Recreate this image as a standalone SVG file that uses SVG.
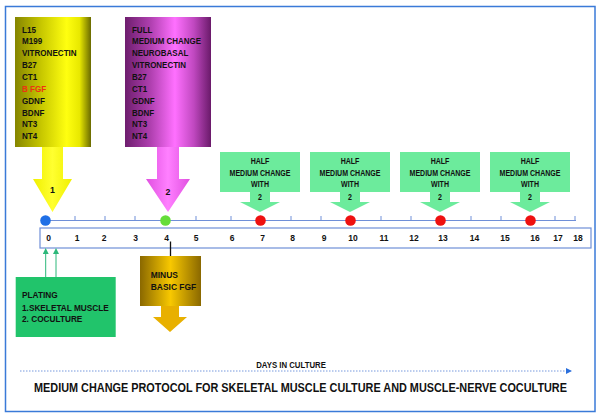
<svg xmlns="http://www.w3.org/2000/svg" width="601" height="417" viewBox="0 0 601 417">
<style>
text{font-family:"Liberation Sans",Arial,sans-serif;font-weight:bold;fill:#111}
.bx{font-size:9.5px}
.co{font-size:8.8px;text-anchor:middle}
.num{font-size:8.5px;text-anchor:middle}
.tick{stroke:#6f8fd8;stroke-width:1}
.callout{fill:#6ceb9c}
</style>
<defs>
<linearGradient id="gy" x1="0" y1="0" x2="1" y2="0">
<stop offset="0" stop-color="#858500"/>
<stop offset="0.35" stop-color="#c8c800"/>
<stop offset="0.68" stop-color="#ffff10"/>
<stop offset="0.85" stop-color="#e8e800"/>
<stop offset="1" stop-color="#6a6a00"/>
</linearGradient>
<linearGradient id="gm" x1="0" y1="0" x2="1" y2="0">
<stop offset="0" stop-color="#6e1e6e"/>
<stop offset="0.3" stop-color="#b040b0"/>
<stop offset="0.58" stop-color="#ff70ff"/>
<stop offset="0.8" stop-color="#c048c0"/>
<stop offset="1" stop-color="#6a1a6a"/>
</linearGradient>
<linearGradient id="go" x1="0" y1="0" x2="1" y2="0">
<stop offset="0" stop-color="#8a6800"/>
<stop offset="0.5" stop-color="#f8c800"/>
<stop offset="1" stop-color="#8a6800"/>
</linearGradient>
<linearGradient id="gya" x1="0" y1="0" x2="1" y2="0">
<stop offset="0" stop-color="#f0f000"/>
<stop offset="0.5" stop-color="#ffff30"/>
<stop offset="1" stop-color="#f0f000"/>
</linearGradient>
<linearGradient id="gma" x1="0" y1="0" x2="1" y2="0">
<stop offset="0" stop-color="#e050e0"/>
<stop offset="0.5" stop-color="#ff80ff"/>
<stop offset="1" stop-color="#e050e0"/>
</linearGradient>
<marker id="ag" markerWidth="6" markerHeight="6" refX="3" refY="3" orient="auto" markerUnits="userSpaceOnUse">
<path d="M0,0 L6,3 L0,6 Z" fill="#2cb87a"/>
</marker>
<marker id="ab" markerWidth="6" markerHeight="6" refX="5" refY="3" orient="auto" markerUnits="userSpaceOnUse">
<path d="M0,0 L6,3 L0,6 Z" fill="#2a6fdc"/>
</marker>
</defs>
<rect x="0" y="0" width="601" height="417" fill="#ffffff"/>
<rect id="frame" x="5.5" y="6.5" width="589.5" height="405" fill="none" stroke="#3a7ad8" stroke-width="1.5"/>

<g id="node-yellow">
<rect x="15" y="17" width="76" height="130" fill="url(#gy)"/>
<polygon points="42,147 63,147 63,179 72,179 52.5,212 33,179 42,179" fill="url(#gya)"/>
<g transform="translate(22,0) scale(0.85,1)">
<text class="bx" x="0" y="32.7">L15</text>
<text class="bx" x="0" y="44.5">M199</text>
<text class="bx" x="0" y="56.3">VITRONECTIN</text>
<text class="bx" x="0" y="68.2">B27</text>
<text class="bx" x="0" y="80">CT1</text>
<text class="bx" x="0" y="91.9" style="fill:#ee3311">B FGF</text>
<text class="bx" x="0" y="103.8">GDNF</text>
<text class="bx" x="0" y="115.6">BDNF</text>
<text class="bx" x="0" y="127.4">NT3</text>
<text class="bx" x="0" y="139.3">NT4</text>
</g>
<text class="co" x="52.5" y="192.5">1</text>
</g>

<g id="node-magenta">
<rect x="125" y="17" width="86" height="130" fill="url(#gm)"/>
<polygon points="157,147 179,147 179,179 190,179 168,212 146,179 157,179" fill="url(#gma)"/>
<g transform="translate(132,0) scale(0.84,1)">
<text class="bx" x="0" y="32.7">FULL</text>
<text class="bx" x="0" y="44.5">MEDIUM CHANGE</text>
<text class="bx" x="0" y="56.3">NEUROBASAL</text>
<text class="bx" x="0" y="68.2">VITRONECTIN</text>
<text class="bx" x="0" y="80">B27</text>
<text class="bx" x="0" y="91.9">CT1</text>
<text class="bx" x="0" y="103.8">GDNF</text>
<text class="bx" x="0" y="115.6">BDNF</text>
<text class="bx" x="0" y="127.4">NT3</text>
<text class="bx" x="0" y="139.3">NT4</text>
</g>
<text class="co" x="168" y="194.5">2</text>
</g>

<g id="node-half-7">
<path class="callout" d="M220,152 H300 V192 H270 V202 H280 L260,212 L240,202 H250 V192 H220 Z"/>
<g transform="translate(260,0) scale(0.8,1)">
<text class="co" x="0" y="164">HALF</text>
<text class="co" x="0" y="176">MEDIUM CHANGE</text>
<text class="co" x="0" y="187.5">WITH</text>
<text class="co" x="0" y="200">2</text>
</g>
</g>
<g id="node-half-10">
<path class="callout" d="M310,152 H390 V192 H360 V202 H370 L350,212 L330,202 H340 V192 H310 Z"/>
<g transform="translate(350,0) scale(0.8,1)">
<text class="co" x="0" y="164">HALF</text>
<text class="co" x="0" y="176">MEDIUM CHANGE</text>
<text class="co" x="0" y="187.5">WITH</text>
<text class="co" x="0" y="200">2</text>
</g>
</g>
<g id="node-half-13">
<path class="callout" d="M400,152 H480 V192 H450 V202 H460 L440,212 L420,202 H430 V192 H400 Z"/>
<g transform="translate(440,0) scale(0.8,1)">
<text class="co" x="0" y="164">HALF</text>
<text class="co" x="0" y="176">MEDIUM CHANGE</text>
<text class="co" x="0" y="187.5">WITH</text>
<text class="co" x="0" y="200">2</text>
</g>
</g>
<g id="node-half-16">
<path class="callout" d="M490,152 H570 V192 H540 V202 H550 L530,212 L510,202 H520 V192 H490 Z"/>
<g transform="translate(530,0) scale(0.8,1)">
<text class="co" x="0" y="164">HALF</text>
<text class="co" x="0" y="176">MEDIUM CHANGE</text>
<text class="co" x="0" y="187.5">WITH</text>
<text class="co" x="0" y="200">2</text>
</g>
</g>

<g id="timeline">
<line x1="45" y1="220.5" x2="576" y2="220.5" stroke="#6f8fd8" stroke-width="1.2"/>
<line class="tick" x1="75" y1="216" x2="75" y2="220.5"/>
<line class="tick" x1="105" y1="216" x2="105" y2="220.5"/>
<line class="tick" x1="135" y1="216" x2="135" y2="220.5"/>
<line class="tick" x1="196" y1="216" x2="196" y2="220.5"/>
<line class="tick" x1="231" y1="216" x2="231" y2="220.5"/>
<line class="tick" x1="291" y1="216" x2="291" y2="220.5"/>
<line class="tick" x1="321" y1="216" x2="321" y2="220.5"/>
<line class="tick" x1="381" y1="216" x2="381" y2="220.5"/>
<line class="tick" x1="411" y1="216" x2="411" y2="220.5"/>
<line class="tick" x1="471" y1="216" x2="471" y2="220.5"/>
<line class="tick" x1="501" y1="216" x2="501" y2="220.5"/>
<line class="tick" x1="555" y1="216" x2="555" y2="220.5"/>
<line class="tick" x1="575" y1="216" x2="575" y2="220.5"/>
<rect x="40" y="228" width="551" height="20" fill="#ffffff" stroke="#6f8fd8" stroke-width="1.2"/>
<circle cx="45.5" cy="220.5" r="5.3" fill="#1f6fe6"/>
<circle cx="165.5" cy="220.5" r="5.3" fill="#66dd3a"/>
<circle cx="260.5" cy="220.5" r="5.3" fill="#ee1111"/>
<circle cx="350.5" cy="220.5" r="5.3" fill="#ee1111"/>
<circle cx="440.5" cy="220.5" r="5.3" fill="#ee1111"/>
<circle cx="530.5" cy="220.5" r="5.3" fill="#ee1111"/>
<text class="num" x="48.5" y="241">0</text>
<text class="num" x="77" y="241">1</text>
<text class="num" x="104" y="241">2</text>
<text class="num" x="135.5" y="241">3</text>
<text class="num" x="166.5" y="241">4</text>
<text class="num" x="196" y="241">5</text>
<text class="num" x="232" y="241">6</text>
<text class="num" x="262.5" y="241">7</text>
<text class="num" x="292.5" y="241">8</text>
<text class="num" x="324" y="241">9</text>
<text class="num" x="353" y="241">10</text>
<text class="num" x="384" y="241">11</text>
<text class="num" x="414" y="241">12</text>
<text class="num" x="443" y="241">13</text>
<text class="num" x="474.5" y="241">14</text>
<text class="num" x="505" y="241">15</text>
<text class="num" x="535" y="241">16</text>
<text class="num" x="558" y="241">17</text>
<text class="num" x="578" y="241">18</text>
</g>

<g id="connectors">
<line x1="45.7" y1="277" x2="45.7" y2="251" stroke="#2cb87a" stroke-width="1" marker-end="url(#ag)"/>
<line x1="56" y1="277" x2="56" y2="251" stroke="#2cb87a" stroke-width="1" marker-end="url(#ag)"/>
<line x1="170.5" y1="241.5" x2="170.5" y2="256" stroke="#111" stroke-width="1.3"/>
<line x1="20" y1="371" x2="571" y2="371" stroke="#7799dd" stroke-width="1" stroke-dasharray="1.5,1.5" marker-end="url(#ab)"/>
</g>

<g id="node-plating">
<rect x="15.7" y="277" width="100" height="60" fill="#21c46b"/>
<g transform="translate(22,0) scale(0.87,1)">
<text class="bx" x="0" y="298.5">PLATING</text>
<text class="bx" x="0" y="310.6">1.SKELETAL MUSCLE</text>
<text class="bx" x="0" y="322">2. COCULTURE</text>
</g>
</g>

<g id="node-minus">
<rect x="140" y="256" width="61" height="50" fill="url(#go)"/>
<polygon points="161,306 179,306 179,317 187,317 170,332 153,317 161,317" fill="#e8b000"/>
<g transform="translate(150.7,0) scale(0.89,1)">
<text class="bx" x="0" y="278.3">MINUS</text>
<text class="bx" x="0" y="290">BASIC FGF</text>
</g>
</g>

<g transform="translate(291,0) scale(0.94,1)">
<text x="0" y="368" style="font-size:8.3px;text-anchor:middle">DAYS IN CULTURE</text>
</g>
<g transform="translate(300.5,0) scale(0.87,1)">
<text x="0" y="392" style="font-size:12.5px;text-anchor:middle">MEDIUM CHANGE PROTOCOL FOR SKELETAL MUSCLE CULTURE AND MUSCLE-NERVE COCULTURE</text>
</g>
</svg>
